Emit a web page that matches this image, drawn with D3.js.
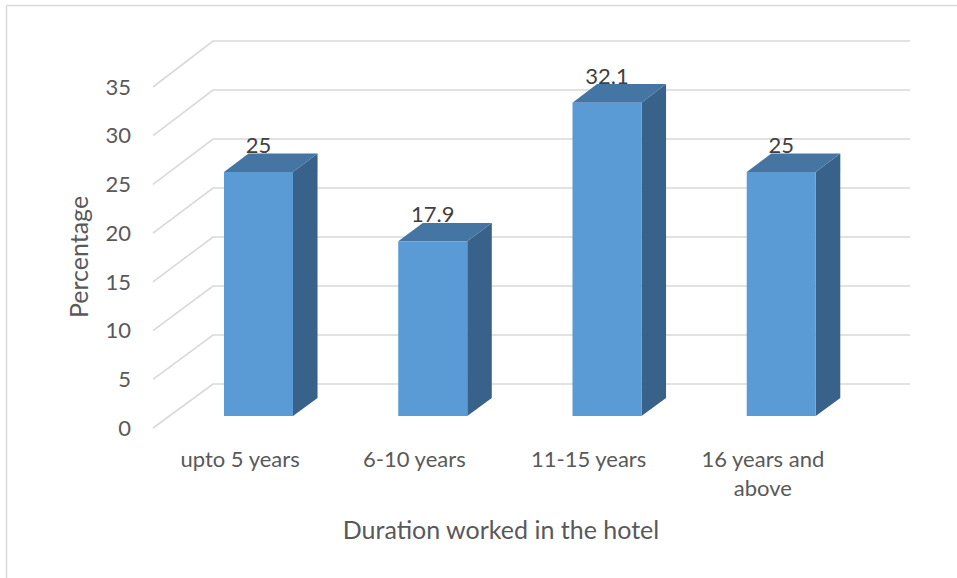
<!DOCTYPE html>
<html>
<head>
<meta charset="utf-8">
<script src="https://cdn.jsdelivr.net/npm/d3@7/dist/d3.min.js"></script>
<style>
  html, body { margin: 0; padding: 0; background: #fff; }
  svg { display: block; }
  text { font-family: Lato, "Open Sans", sans-serif; }
</style>
</head>
<body>
<svg id="chart" width="957" height="578"></svg>
<script>
// Share of staff by length of service
const categories = ["upto 5 years", "6-10 years", "11-15 years", "16 years and above"];
const categoryLines = [["upto 5 years"], ["6-10 years"], ["11-15 years"], ["16 years and", "above"]];
const values = [25, 17.9, 32.1, 25];
const yTicks = [0, 5, 10, 15, 20, 25, 30, 35];
const xTitle = "Duration worked in the hotel";
const yTitle = "Percentage";

const svg = d3.select("#chart");
const W = 957, H = 578;

// Chart area frame (top and left edges only)
svg.append("line").attr("x1", 6.5).attr("y1", 5.5).attr("x2", W).attr("y2", 5.5)
  .attr("stroke", "#d9d9d9").attr("stroke-width", 1.5);
svg.append("line").attr("x1", 6.5).attr("y1", 5.5).attr("x2", 6.5).attr("y2", H)
  .attr("stroke", "#d9d9d9").attr("stroke-width", 1.5);

// Oblique 3D projection: back wall plane and front edge of the floor
const backLeft = 213, backRight = 910;
const depthDx = -60;                          // horizontal offset from back wall to front edge
const yBack = d3.scaleLinear().domain([0, 35]).range([384, 41]);
const yFront = d3.scaleLinear().domain([0, 35]).range([428, 87]);
const x = d3.scaleBand().domain(categories).range([backLeft, backRight]);

// d = 0 at the back wall, d = 1 at the front edge
function proj(xb, v, d) {
  const yb = yBack(v), yf = yFront(v);
  return [xb + depthDx * d, yb + (yf - yb) * d];
}

// Gridlines: diagonal on the side wall, horizontal on the back wall
const grid = svg.append("g").attr("stroke", "#d9d9d9").attr("stroke-width", 1.6).attr("fill", "none");
yTicks.forEach(t => {
  const f = proj(backLeft, t, 1), b = proj(backLeft, t, 0), r = proj(backRight, t, 0);
  grid.append("polyline").attr("points", [f, b, r].map(p => p.join(",")).join(" "));
});

// Value axis labels at the front edge
svg.append("g").selectAll("text").data(yTicks).join("text")
  .attr("x", 131).attr("y", d => yFront(d))
  .attr("dy", "0.35em")
  .attr("text-anchor", "end")
  .attr("font-size", 22).attr("fill", "#595959")
  .text(d => d);

// Bars as boxes: front face, right side, top
const barFrac = 0.396;
const dFront = 32 / 44, dBack = 14 / 44;
const bars = svg.append("g");
categories.forEach((c, i) => {
  const v = values[i];
  const cx = x(c) + x.bandwidth() / 2 + 2;
  const bw = x.bandwidth() * barFrac;
  const xl = cx - bw / 2, xr = cx + bw / 2;
  const fbl = proj(xl, 0, dFront), fbr = proj(xr, 0, dFront);
  const ftl = proj(xl, v, dFront), ftr = proj(xr, v, dFront);
  const bbr = proj(xr, 0, dBack), btl = proj(xl, v, dBack), btr = proj(xr, v, dBack);
  const pts = a => a.map(p => p.join(",")).join(" ");
  bars.append("polygon").attr("points", pts([fbr, ftr, btr, bbr])).attr("fill", "#386289");
  bars.append("polygon").attr("points", pts([ftl, ftr, btr, btl])).attr("fill", "#4575a3");
  bars.append("polygon").attr("points", pts([fbl, fbr, ftr, ftl])).attr("fill", "#5b9bd5");
  // value label above the front face
  svg.append("text")
    .attr("x", (ftl[0] + ftr[0]) / 2).attr("y", ftl[1] - 19)
    .attr("text-anchor", "middle")
    .attr("font-size", 22).attr("fill", "#404040")
    .text(v);
});

// Category labels along the front edge of the floor
categories.forEach((c, i) => {
  const cx = x(c) + x.bandwidth() / 2 + depthDx;
  const t = svg.append("text")
    .attr("text-anchor", "middle")
    .attr("font-size", 22).attr("fill", "#595959");
  categoryLines[i].forEach((line, k) => {
    t.append("tspan").attr("x", cx).attr("y", 467 + k * 29).text(line);
  });
});

// Axis titles
svg.append("text")
  .attr("x", 501).attr("y", 539)
  .attr("text-anchor", "middle")
  .attr("font-size", 25).attr("fill", "#595959")
  .text(xTitle);

svg.append("text")
  .attr("transform", "translate(88,257) rotate(-90)")
  .attr("text-anchor", "middle")
  .attr("font-size", 25).attr("fill", "#595959")
  .text(yTitle);
</script>
</body>
</html>
